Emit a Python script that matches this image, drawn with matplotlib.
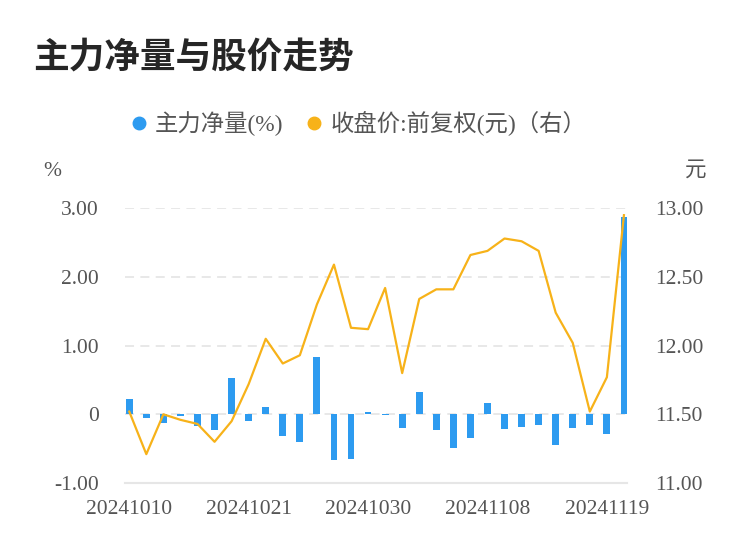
import numpy as np
import matplotlib
matplotlib.use("Agg")
import matplotlib.pyplot as plt
from matplotlib.lines import Line2D

plt.rcParams['font.family'] = ['Liberation Serif', 'Noto Sans CJK SC', 'DejaVu Sans']

dates = ["20241010", "20241011", "20241014", "20241015", "20241016", "20241017",
         "20241018", "20241021", "20241022", "20241023", "20241024", "20241025",
         "20241028", "20241029", "20241030", "20241031", "20241101", "20241104",
         "20241105", "20241106", "20241107", "20241108", "20241111", "20241112",
         "20241113", "20241114", "20241115", "20241118", "20241119", "20241120"]
net_flow = [0.23, -0.05, -0.13, -0.03, -0.17, -0.23, 0.53, -0.10, 0.10, -0.32,
            -0.40, 0.83, -0.67, -0.65, 0.04, -0.01, -0.20, 0.33, -0.23, -0.49,
            -0.34, 0.16, -0.21, -0.19, -0.16, -0.45, -0.20, -0.15, -0.28, 2.87]
close_price = [11.52, 11.21, 11.50, 11.46, 11.43, 11.30, 11.45, 11.72, 12.05, 11.87,
               11.93, 12.30, 12.59, 12.13, 12.12, 12.42, 11.80, 12.34, 12.41, 12.41,
               12.66, 12.69, 12.78, 12.76, 12.69, 12.24, 12.02, 11.52, 11.77, 12.95]
left_ticks = [-1, 0, 1, 2, 3]
left_labels = ["-1.00", "0", "1.00", "2.00", "3.00"]
right_ticks = [11.0, 11.5, 12.0, 12.5, 13.0]
label_idx = [0, 7, 14, 21, 28]

blue = "#2d9bf0"
orange = "#f7b219"
grey_txt = "#555555"
grid_c = "#e6e6e6"

fig = plt.figure(figsize=(7.5, 5.58), dpi=100)
ax = fig.add_axes([125/750, 1-483/558, (627-125)/750, (483-208.3)/558])
x = np.arange(len(dates))

ax.bar(x, net_flow, width=0.4, color=blue, zorder=3)
ax.set_ylim(-1, 3)
ax.set_xlim(-0.25, len(dates) - 0.82)
ax.set_yticks(left_ticks)
ax.set_yticklabels(left_labels)
for y in left_ticks[1:]:
    ax.axhline(y, color=grid_c, lw=1.3, ls=(0, (5, 3.5)), zorder=1)
ax.set_xticks([x[i] for i in label_idx])
ax.set_xticklabels([dates[i] for i in label_idx])
for s in ["top", "left", "right"]:
    ax.spines[s].set_visible(False)
ax.spines["bottom"].set_color(grid_c)
ax.spines["bottom"].set_linewidth(1.5)
ax.tick_params(axis="y", length=0, pad=19, labelsize=15.5, labelcolor=grey_txt)
ax.tick_params(axis="x", length=0, pad=12, labelsize=15.5, labelcolor=grey_txt)

ax2 = ax.twinx()
ax2.plot(x, close_price, color=orange, lw=1.6, zorder=4)
ax2.set_ylim(11, 13)
ax2.set_yticks(right_ticks)
ax2.set_yticklabels(["%.2f" % v for v in right_ticks])
for s in ["top", "left", "right", "bottom"]:
    ax2.spines[s].set_visible(False)
ax2.tick_params(axis="y", length=0, pad=20, labelsize=15.5, labelcolor=grey_txt)

fig.text(33/750, 1-58/558, "主力净量与股价走势", fontsize=25.7, fontweight="bold",
         color="#262626", family=["Noto Sans CJK SC"], va="center", ha="left")
fig.text(52/750, 1-171/558, "%", fontsize=15.5, color=grey_txt, ha="center", va="center")
fig.text(696/750, 1-170/558, "元", fontsize=15.5, color=grey_txt, ha="center", va="center",
         family=["Noto Sans CJK SC"])

handles = [Line2D([], [], marker="o", ls="none", color=blue, markersize=9),
           Line2D([], [], marker="o", ls="none", color=orange, markersize=9)]
leg = fig.legend(handles, ["主力净量(%)", "收盘价:前复权(元)（右）"], ncol=2,
                 loc="center", bbox_to_anchor=(359/750, 1-124/558), frameon=False,
                 fontsize=16.8, handlelength=0.6, handletextpad=0.4, columnspacing=1.0,
                 labelcolor=grey_txt)

fig.savefig("out.png", dpi=100)
